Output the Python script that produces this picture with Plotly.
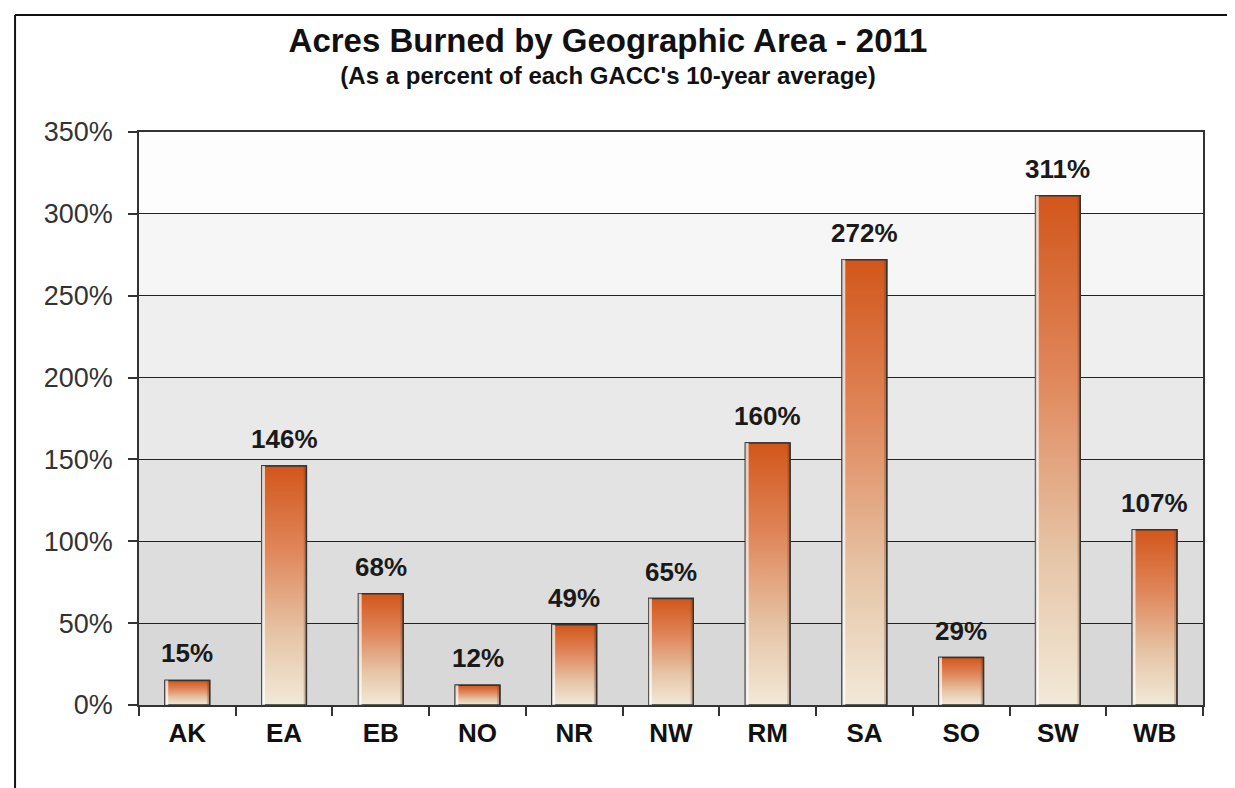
"""Acres burned by geographic area, 2011, as percent of 10-year average."""

import plotly.graph_objects as go

# Data
areas = ['AK', 'EA', 'EB', 'NO', 'NR', 'NW', 'RM', 'SA', 'SO', 'SW', 'WB']
pct_of_avg = [15, 146, 68, 12, 49, 65, 160, 272, 29, 311, 107]
y_ticks = [0, 50, 100, 150, 200, 250, 300, 350]
band_grays = ['#d8d8d8', '#dddddd', '#e3e3e3', '#e9e9e9', '#efefef', '#f6f6f6', '#fdfdfd']

BAR_W = 0.46
OUTLINE = '#333333'

fig = go.Figure()

positions = list(range(len(areas)))

# Base bars (hover + outline); the gradient face is drawn over them
fig.add_trace(go.Bar(
    x=positions,
    y=pct_of_avg,
    width=BAR_W,
    marker=dict(color='#e8c9a8', line=dict(color=OUTLINE, width=1.5)),
    customdata=areas,
    hovertemplate='%{customdata}: %{y}%<extra></extra>',
    showlegend=False,
))

# Gradient face for each bar, orange at the top fading to cream at the base
for i, v in zip(positions, pct_of_avg):
    x0, x1 = i - BAR_W / 2, i + BAR_W / 2
    fig.add_trace(go.Scatter(
        x=[x0, x1, x1, x0, x0],
        y=[0, 0, v, v, 0],
        mode='lines',
        fill='toself',
        fillgradient=dict(
            type='vertical',
            start=0,
            stop=v,
            colorscale=[[0, '#f2e9d8'], [0.3, '#e6c4a6'], [0.65, '#e0865a'], [1, '#d2561b']],
        ),
        line=dict(color=OUTLINE, width=1.5),
        hoverinfo='skip',
        showlegend=False,
    ))
    # white highlight on the left edge, shadow on the right edge
    hx = x0 + BAR_W * 0.07
    sx = x1 - BAR_W * 0.06
    fig.add_trace(go.Scatter(
        x=[x0, hx, hx, x0, x0],
        y=[0, 0, v, v, 0],
        mode='lines',
        fill='toself',
        fillcolor='rgba(255,255,255,0.7)',
        line=dict(width=0),
        hoverinfo='skip',
        showlegend=False,
    ))
    fig.add_trace(go.Scatter(
        x=[sx, x1, x1, sx, sx],
        y=[0, 0, v, v, 0],
        mode='lines',
        fill='toself',
        fillcolor='rgba(90,50,30,0.25)',
        line=dict(width=0),
        hoverinfo='skip',
        showlegend=False,
    ))

# Value labels above the bars
for i, v in zip(positions, pct_of_avg):
    fig.add_annotation(
        x=i, y=v, text=f'<b>{v}%</b>', showarrow=False,
        yanchor='bottom', yshift=10,
        font=dict(family='Arial', size=26, color='#1a1a1a'),
    )

# Stepped gray background bands between gridlines
for lo, hi, c in zip(y_ticks[:-1], y_ticks[1:], band_grays):
    fig.add_shape(type='rect', xref='paper', x0=0, x1=1, yref='y', y0=lo, y1=hi,
                  fillcolor=c, line=dict(width=0), layer='below')

# Outer chart frame (left and top edges visible)
fig.add_shape(type='line', xref='paper', yref='paper', x0=-0.1165, x1=-0.1165, y0=1.204, y1=-0.3,
              line=dict(color='#111111', width=2))
fig.add_shape(type='line', xref='paper', yref='paper', x0=-0.1165, x1=1.1, y0=1.204, y1=1.204,
              line=dict(color='#111111', width=2))

fig.update_layout(
    title=dict(
        text="<span style='font-size:33px'><b>Acres Burned by Geographic Area - 2011</b></span><br>"
             "<b>(As a percent of each GACC's 10-year average)</b>",
        x=0.489, xanchor='center', y=0.943, yanchor='top',
        font=dict(family='Arial', size=24, color='#111111'),
    ),
    width=1227,
    height=780,
    margin=dict(l=131, r=32, t=124, b=83),
    paper_bgcolor='white',
    plot_bgcolor='white',
)

fig.update_xaxes(
    range=[-0.5, len(areas) - 0.5],
    tickmode='array',
    tickvals=positions,
    ticktext=[f'<b>{a}</b>' for a in areas],
    tickfont=dict(family='Arial', size=26, color='#111111'),
    ticks='',
    ticklabelstandoff=4,
    minor=dict(tickmode='array', tickvals=[p - 0.5 for p in positions] + [len(areas) - 0.5],
               ticks='outside', ticklen=9, tickcolor=OUTLINE, tickwidth=1.5),
    showgrid=False,
    showline=True, linecolor=OUTLINE, linewidth=1.5, mirror=True,
    zeroline=False,
)
fig.update_yaxes(
    range=[0, 350],
    tickmode='array',
    tickvals=y_ticks,
    ticktext=[f'{t}%' for t in y_ticks],
    tickfont=dict(family='Arial', size=27, color='#333333'),
    ticks='outside', ticklen=9, tickcolor=OUTLINE, tickwidth=1.5,
    ticklabelstandoff=10,
    showgrid=True, gridcolor='#222222', gridwidth=1.2,
    showline=True, linecolor=OUTLINE, linewidth=1.5, mirror=True,
    zeroline=False,
)

fig.write_html("out.html")
